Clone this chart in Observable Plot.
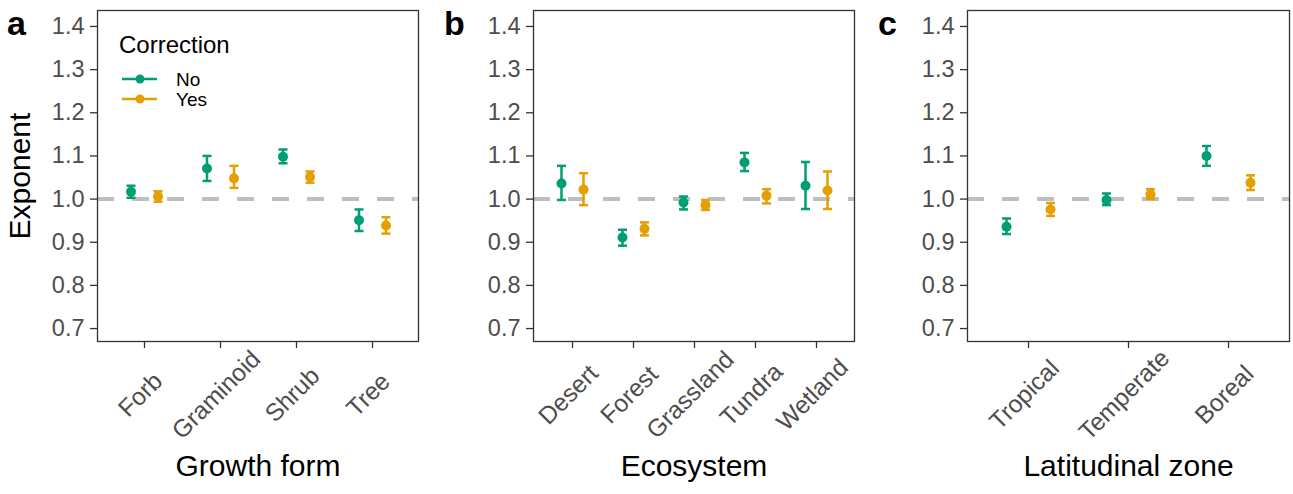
<!DOCTYPE html>
<html><head><meta charset="utf-8">
<script src="https://cdn.jsdelivr.net/npm/d3@7"></script>
<script src="https://cdn.jsdelivr.net/npm/@observablehq/plot@0.6"></script>
<style>
body{margin:0;background:#fff;font-family:"Liberation Sans",Arial,Helvetica,sans-serif;}
#wrap{position:relative;width:1293px;height:494px;overflow:hidden;background:#fff}
.panel{position:absolute;top:0}
.plabel{position:absolute;top:6px;font-weight:bold;font-size:34px;line-height:34px;color:#000}
#legend{position:absolute;left:0;top:0}
</style></head><body><div id="wrap"></div>
<script>
// ---- data ----
const corrections = ["No", "Yes"];
const corrColors = ["#009E73", "#E69F00"];
const yTicks = [0.7, 0.8, 0.9, 1.0, 1.1, 1.2, 1.3, 1.4];

const growthForms = ["Forb", "Graminoid", "Shrub", "Tree"];
const growthNoEst = [1.017, 1.071, 1.098, 0.951];
const growthNoLo  = [1.003, 1.042, 1.083, 0.926];
const growthNoHi  = [1.031, 1.100, 1.115, 0.976];
const growthYesEst = [1.006, 1.048, 1.051, 0.939];
const growthYesLo  = [0.994, 1.026, 1.038, 0.920];
const growthYesHi  = [1.018, 1.077, 1.064, 0.958];

const ecosystems = ["Desert", "Forest", "Grassland", "Tundra", "Wetland"];
const ecoNoEst = [1.036, 0.911, 0.992, 1.085, 1.031];
const ecoNoLo  = [0.998, 0.892, 0.976, 1.065, 0.977];
const ecoNoHi  = [1.077, 0.929, 1.006, 1.107, 1.086];
const ecoYesEst = [1.022, 0.931, 0.986, 1.008, 1.020];
const ecoYesLo  = [0.986, 0.916, 0.975, 0.990, 0.977];
const ecoYesHi  = [1.060, 0.946, 0.998, 1.023, 1.064];

const zones = ["Tropical", "Temperate", "Boreal"];
const zoneNoEst = [0.936, 0.998, 1.100];
const zoneNoLo  = [0.919, 0.986, 1.077];
const zoneNoHi  = [0.955, 1.013, 1.123];
const zoneYesEst = [0.976, 1.011, 1.038];
const zoneYesLo  = [0.961, 1.000, 1.021];
const zoneYesHi  = [0.991, 1.023, 1.055];

// ---- build ----
const FONT = '"Liberation Sans", Arial, Helvetica, sans-serif';
const wrap = document.getElementById("wrap");

// horizontal-bar symbol used for error bar caps
const capSymbol = {
  draw(ctx, size) {
    const w = Math.sqrt(size / Math.PI);
    ctx.moveTo(-w, 0);
    ctx.lineTo(w, 0);
  }
};

function rows(cats, est, lo, hi) {
  return cats.map((c, i) => ({cat: c, est: est[i], lo: lo[i], hi: hi[i]}));
}

function makePanel(cfg) {
  const series = [
    rows(cfg.cats, cfg.noEst, cfg.noLo, cfg.noHi),
    rows(cfg.cats, cfg.yesEst, cfg.yesLo, cfg.yesHi)
  ];
  const marks = [
    Plot.ruleY([1], {stroke: "#bebebe", strokeWidth: 4, strokeDasharray: "17,18"})
  ];
  series.forEach((data, k) => {
    const dx = k === 0 ? -cfg.dodge : cfg.dodge;
    const col = corrColors[k];
    marks.push(
      Plot.ruleX(data, {x: "cat", y1: "lo", y2: "hi", stroke: col, strokeWidth: 2.5, dx}),
      Plot.dot(data, {x: "cat", y: "lo", symbol: capSymbol, r: 4.5, fill: "none", stroke: col, strokeWidth: 2.5, dx}),
      Plot.dot(data, {x: "cat", y: "hi", symbol: capSymbol, r: 4.5, fill: "none", stroke: col, strokeWidth: 2.5, dx}),
      Plot.dot(data, {x: "cat", y: "est", r: 5, fill: col, stroke: "none", dx})
    );
  });
  marks.push(
    Plot.frame({stroke: "#333333", strokeWidth: 1.3}),
    Plot.axisY({ticks: yTicks, tickFormat: d3.format(".1f"), tickSize: 7, tickPadding: 6,
      fontSize: 23.5, fill: "#4d4d4d", stroke: "#333333", strokeWidth: 1.3, label: null}),
    Plot.axisX({tickSize: 7, tickFormat: () => "", stroke: "#333333", strokeWidth: 1.3, label: null}),
    Plot.text(cfg.cats, {x: d => d, text: d => d, frameAnchor: "bottom", rotate: -45,
      textAnchor: "middle", dy: 59, dx: 1.5, fontSize: 24.5, fill: "#4d4d4d"}),
    Plot.text([cfg.title], {text: d => d, frameAnchor: "bottom", dy: 134, fontSize: 30, fill: "#000"})
  );
  if (cfg.ylabel) {
    marks.push(Plot.text([cfg.ylabel], {text: d => d, frameAnchor: "left", rotate: -90, textAnchor: "middle",
      dx: -77, fontSize: 30, fill: "#000"}));
  }
  const svg = Plot.plot({
    width: cfg.width, height: 494,
    marginLeft: cfg.mL, marginRight: cfg.mR, marginTop: 10, marginBottom: 153,
    style: {fontFamily: FONT, background: "transparent", overflow: "visible"},
    x: {type: "point", domain: cfg.cats, padding: 0.6, axis: null},
    y: {domain: [0.670, 1.437], axis: null},
    marks
  });
  svg.classList.add("panel");
  svg.style.left = cfg.left + "px";
  wrap.appendChild(svg);
  const lab = document.createElement("div");
  lab.className = "plabel";
  lab.textContent = cfg.letter;
  lab.style.left = cfg.letterLeft + "px";
  wrap.appendChild(lab);
}

makePanel({cats: growthForms, noEst: growthNoEst, noLo: growthNoLo, noHi: growthNoHi,
  yesEst: growthYesEst, yesLo: growthYesLo, yesHi: growthYesHi,
  title: "Growth form", ylabel: "Exponent", left: 0, width: 430, mL: 97, mR: 12, dodge: 13.5,
  letter: "a", letterLeft: 7});
makePanel({cats: ecosystems, noEst: ecoNoEst, noLo: ecoNoLo, noHi: ecoNoHi,
  yesEst: ecoYesEst, yesLo: ecoYesLo, yesHi: ecoYesHi,
  title: "Ecosystem", left: 430, width: 430, mL: 103, mR: 6, dodge: 11,
  letter: "b", letterLeft: 444});
makePanel({cats: zones, noEst: zoneNoEst, noLo: zoneNoLo, noHi: zoneNoHi,
  yesEst: zoneYesEst, yesLo: zoneYesLo, yesHi: zoneYesHi,
  title: "Latitudinal zone", left: 860, width: 433, mL: 107, mR: 4, dodge: 22,
  letter: "c", letterLeft: 878});

// ---- legend ----
const leg = d3.select(wrap).append("svg").attr("id", "legend")
  .attr("width", 300).attr("height", 120).style("font-family", FONT);
leg.append("text").attr("x", 119).attr("y", 53).attr("font-size", 24).attr("fill", "#000").text("Correction");
corrections.forEach((c, k) => {
  const y = 79 + k * 20;
  leg.append("line").attr("x1", 122).attr("x2", 157).attr("y1", y).attr("y2", y)
    .attr("stroke", corrColors[k]).attr("stroke-width", 2.5);
  leg.append("circle").attr("cx", 140).attr("cy", y).attr("r", 4.5).attr("fill", corrColors[k]);
  leg.append("text").attr("x", 176).attr("y", y + 7).attr("font-size", 19).attr("fill", "#000").text(c);
});
</script></body></html>
